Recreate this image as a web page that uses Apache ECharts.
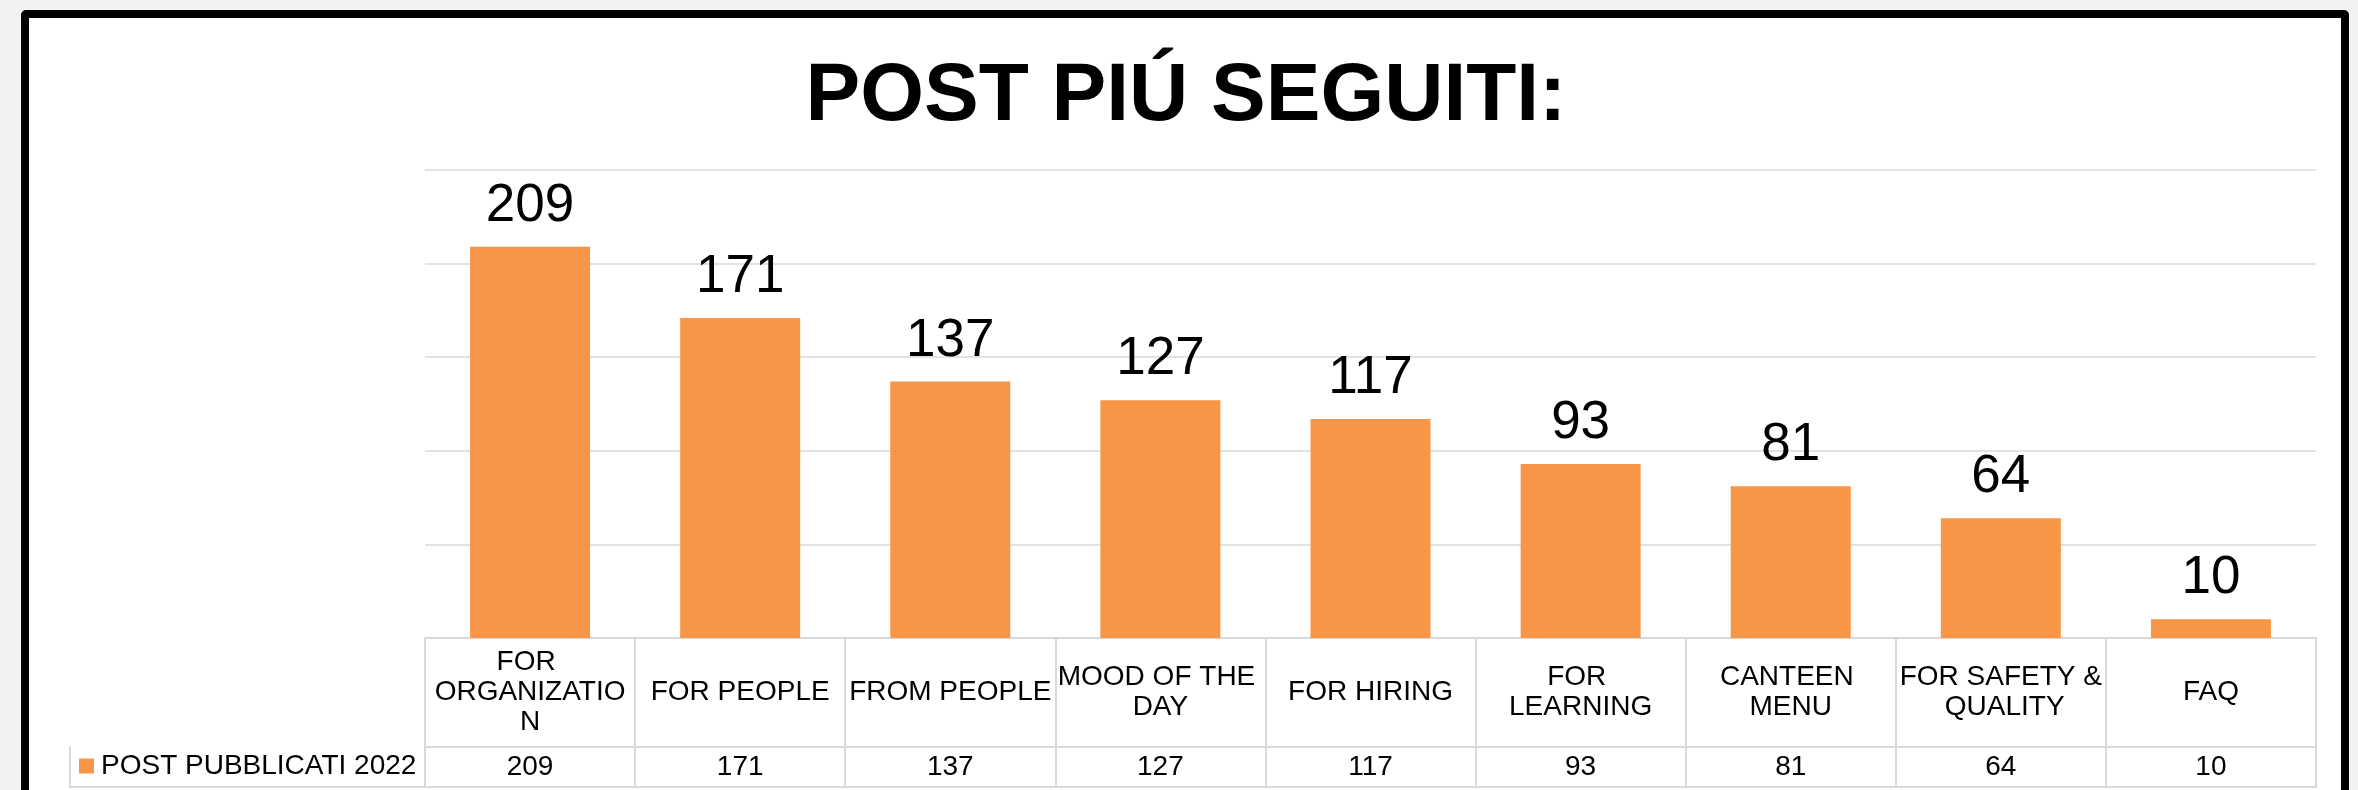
<!DOCTYPE html>
<html>
<head>
<meta charset="utf-8">
<title>POST PIÚ SEGUITI</title>
<script src="https://cdn.jsdelivr.net/npm/echarts@6/dist/echarts.min.js"></script>
<style>
  html, body { margin: 0; padding: 0; background: #f2f2f2; overflow: hidden; }
  #frame {
    position: absolute; left: 21px; top: 10px; width: 2328px; height: 1000px;
    box-sizing: border-box; border: 8px solid #000; border-radius: 5px; background: #fff;
  }
  #chart { position: absolute; left: 0; top: 0; width: 2358px; height: 790px; }
</style>
</head>
<body>
<div id="frame"></div>
<div id="chart"></div>
<script>
// data
const categories = [
  'FOR ORGANIZATION', 'FOR PEOPLE', 'FROM PEOPLE', 'MOOD OF THE DAY',
  'FOR HIRING', 'FOR LEARNING', 'CANTEEN MENU', 'FOR SAFETY & QUALITY', 'FAQ'
]
const postValues = [209, 171, 137, 127, 117, 93, 81, 64, 10]
const seriesName = 'POST PUBBLICATI 2022'
const titleText = 'POST PIÚ SEGUITI:'

const font = '"Liberation Sans", Arial, sans-serif'
const tableLine = { color: '#d9d9d9', width: 2 }

const chart = echarts.init(document.getElementById('chart'))
const option = {
  backgroundColor: 'transparent',
  animation: false,
  textStyle: { fontFamily: font },
  title: {
    text: titleText,
    left: 1186,
    top: 56,
    padding: 0,
    textAlign: 'center',
    textStyle: { fontFamily: font, fontSize: 82, fontWeight: 'bold', color: '#000' }
  },
  legend: {
    data: [seriesName],
    left: 79,
    top: 752,
    padding: 0,
    icon: 'rect',
    itemWidth: 15,
    itemHeight: 15,
    selectedMode: false,
    textStyle: { fontFamily: font, fontSize: 28, color: '#000', padding: [0, 0, 0, 2] }
  },
  grid: [
    { left: 425, right: 42, top: 170, height: 468 },
    // legend cell of the data table
    { left: 70, width: 355, top: 747, height: 40 }
  ],
  xAxis: [
    {
      gridIndex: 0,
      type: 'category',
      data: categories,
      position: 'bottom',
      axisLine: { lineStyle: tableLine },
      axisTick: { show: true, interval: 0, length: 149, lineStyle: tableLine },
      axisLabel: {
        interval: 0,
        margin: 54,
        verticalAlign: 'middle',
        width: 206,
        overflow: 'break',
        lineHeight: 30,
        fontFamily: font,
        fontSize: 28,
        color: '#000'
      }
    },
    {
      gridIndex: 0,
      type: 'category',
      data: categories,
      position: 'bottom',
      offset: 109,
      axisLine: { lineStyle: tableLine },
      axisTick: { show: false },
      axisLabel: {
        interval: 0,
        margin: 20,
        verticalAlign: 'middle',
        fontFamily: font,
        fontSize: 28,
        color: '#000',
        formatter: (v, i) => String(postValues[i])
      }
    },
    {
      gridIndex: 0,
      type: 'category',
      data: categories,
      position: 'bottom',
      offset: 149,
      axisLine: { lineStyle: tableLine },
      axisTick: { show: false },
      axisLabel: { show: false }
    },
    {
      gridIndex: 1,
      type: 'category',
      data: [''],
      position: 'top',
      axisLine: { lineStyle: tableLine },
      axisTick: { show: false },
      axisLabel: { show: false }
    },
    {
      gridIndex: 1,
      type: 'category',
      data: [''],
      position: 'bottom',
      axisLine: { lineStyle: tableLine },
      axisTick: { show: false },
      axisLabel: { show: false }
    }
  ],
  yAxis: [
    {
      gridIndex: 0,
      type: 'value',
      min: 0,
      max: 250,
      interval: 50,
      axisLine: { show: false },
      axisTick: { show: false },
      axisLabel: { show: false },
      splitLine: { lineStyle: { color: '#d9d9d9', width: 1.5 } }
    },
    {
      gridIndex: 1,
      type: 'value',
      axisLine: { show: true, lineStyle: tableLine },
      axisTick: { show: false },
      axisLabel: { show: false },
      splitLine: { show: false }
    }
  ],
  series: [
    {
      name: seriesName,
      type: 'bar',
      xAxisIndex: 0,
      yAxisIndex: 0,
      data: postValues,
      barWidth: 120,
      itemStyle: { color: '#F79646' },
      label: {
        show: true,
        position: 'top',
        distance: 14,
        fontFamily: font,
        fontSize: 53,
        color: '#000'
      }
    }
  ]
}
chart.setOption(option)
</script>
</body>
</html>
